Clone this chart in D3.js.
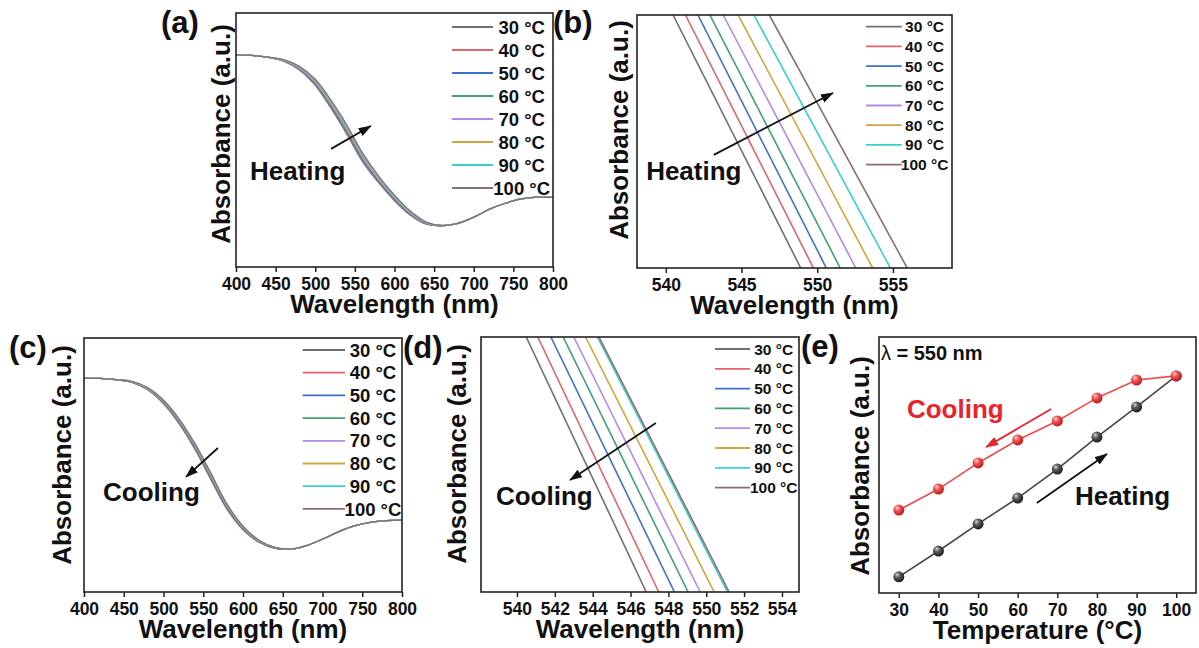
<!DOCTYPE html>
<html>
<head>
<meta charset="utf-8">
<script src="https://cdn.jsdelivr.net/npm/d3@7"></script>
<style>
  body { margin: 0; background: #fff; }
  svg text { font-family: "Liberation Sans", Arial, sans-serif; font-weight: bold; fill: #111; }
</style>
</head>
<body>
<svg id="fig" width="1199" height="648"></svg>
<script>
// ---------- data ----------
const temps = [30, 40, 50, 60, 70, 80, 90, 100];
const legendLabels = ["30 °C", "40 °C", "50 °C", "60 °C", "70 °C", "80 °C", "90 °C", "100 °C"];
const seriesColors = ["#6f6f6f", "#e5636b", "#3f6fd6", "#3ea274", "#b38be6", "#d2a43c", "#3bcfd0", "#8b6e70"];

// full UV-vis spectra (absorbance, a.u.)
const wavelengths = [400, 420, 440, 460, 480, 500, 520, 540, 560, 580, 600, 620, 640, 660, 680, 700, 720, 740, 760, 780, 800];

const heatingAbs = [
  [0.835, 0.833, 0.826, 0.810, 0.776, 0.715, 0.624, 0.522, 0.413, 0.332, 0.261, 0.204, 0.169, 0.162, 0.172, 0.196, 0.228, 0.251, 0.268, 0.275, 0.274],
  [0.835, 0.833, 0.826, 0.811, 0.777, 0.718, 0.628, 0.527, 0.417, 0.335, 0.264, 0.206, 0.170, 0.162, 0.172, 0.196, 0.228, 0.251, 0.268, 0.275, 0.274],
  [0.835, 0.833, 0.826, 0.811, 0.779, 0.721, 0.632, 0.531, 0.422, 0.338, 0.267, 0.208, 0.171, 0.163, 0.172, 0.196, 0.228, 0.251, 0.268, 0.275, 0.274],
  [0.835, 0.833, 0.826, 0.812, 0.781, 0.724, 0.636, 0.536, 0.426, 0.342, 0.269, 0.210, 0.172, 0.163, 0.172, 0.196, 0.228, 0.251, 0.268, 0.275, 0.274],
  [0.835, 0.833, 0.826, 0.813, 0.783, 0.727, 0.641, 0.541, 0.431, 0.345, 0.272, 0.212, 0.173, 0.163, 0.172, 0.196, 0.228, 0.251, 0.268, 0.275, 0.274],
  [0.835, 0.833, 0.826, 0.814, 0.786, 0.731, 0.646, 0.546, 0.436, 0.350, 0.276, 0.215, 0.175, 0.163, 0.172, 0.196, 0.228, 0.251, 0.268, 0.275, 0.274],
  [0.835, 0.833, 0.826, 0.815, 0.788, 0.735, 0.651, 0.552, 0.441, 0.354, 0.279, 0.218, 0.176, 0.164, 0.172, 0.196, 0.228, 0.251, 0.268, 0.275, 0.274],
  [0.835, 0.833, 0.826, 0.816, 0.790, 0.739, 0.656, 0.558, 0.447, 0.358, 0.283, 0.220, 0.177, 0.164, 0.172, 0.196, 0.228, 0.251, 0.268, 0.275, 0.274]
];

const coolingAbs = [
  [0.841, 0.841, 0.836, 0.825, 0.796, 0.741, 0.661, 0.559, 0.440, 0.325, 0.245, 0.196, 0.172, 0.169, 0.183, 0.208, 0.237, 0.260, 0.274, 0.281, 0.283],
  [0.841, 0.841, 0.836, 0.826, 0.797, 0.743, 0.664, 0.562, 0.444, 0.328, 0.247, 0.197, 0.173, 0.169, 0.183, 0.208, 0.237, 0.260, 0.274, 0.281, 0.283],
  [0.841, 0.841, 0.836, 0.826, 0.799, 0.746, 0.667, 0.566, 0.448, 0.332, 0.250, 0.199, 0.173, 0.169, 0.183, 0.208, 0.237, 0.260, 0.274, 0.281, 0.283],
  [0.841, 0.841, 0.836, 0.827, 0.800, 0.748, 0.670, 0.570, 0.452, 0.335, 0.252, 0.200, 0.174, 0.169, 0.183, 0.208, 0.237, 0.260, 0.274, 0.281, 0.283],
  [0.841, 0.841, 0.836, 0.828, 0.801, 0.750, 0.673, 0.573, 0.456, 0.338, 0.254, 0.201, 0.175, 0.169, 0.183, 0.208, 0.237, 0.260, 0.274, 0.281, 0.283],
  [0.841, 0.841, 0.836, 0.828, 0.803, 0.752, 0.676, 0.577, 0.460, 0.342, 0.256, 0.203, 0.175, 0.169, 0.183, 0.208, 0.237, 0.260, 0.274, 0.281, 0.283],
  [0.841, 0.841, 0.836, 0.829, 0.804, 0.755, 0.679, 0.581, 0.464, 0.345, 0.259, 0.204, 0.176, 0.169, 0.183, 0.208, 0.237, 0.260, 0.274, 0.281, 0.283],
  [0.841, 0.841, 0.836, 0.829, 0.805, 0.755, 0.680, 0.581, 0.465, 0.345, 0.259, 0.204, 0.176, 0.169, 0.183, 0.208, 0.237, 0.260, 0.274, 0.281, 0.283]
];

// zoomed spectral window: wavelength where each curve enters (high abs) and leaves (low abs)
const heatZoomAbs = [0.520, 0.475];
const heatZoomWlHigh = [540.48, 541.30, 542.12, 542.91, 543.79, 544.78, 545.82, 546.84];
const heatZoomWlLow  = [548.91, 549.75, 550.60, 551.52, 552.55, 553.66, 554.83, 555.94];
const coolZoomAbs = [0.556, 0.518];
const coolZoomWlHigh = [540.49, 541.10, 541.79, 542.44, 543.00, 543.62, 544.25, 544.33];
const coolZoomWlLow  = [546.83, 547.49, 548.32, 549.04, 549.68, 550.42, 551.12, 551.21];

// absorbance at 550 nm vs temperature
const heatingAt550 = [0.063, 0.164, 0.270, 0.371, 0.484, 0.609, 0.727, 0.848];
const coolingAt550 = [0.324, 0.406, 0.508, 0.598, 0.672, 0.762, 0.832, 0.848];

// tick values
const fullWlTicks = [400, 450, 500, 550, 600, 650, 700, 750, 800];
const heatZoomTicks = [540, 545, 550, 555];
const coolZoomTicks = [540, 542, 544, 546, 548, 550, 552, 554];
const tempTicks = [30, 40, 50, 60, 70, 80, 90, 100];

// ---------- drawing ----------
const svg = d3.select("#fig");
const defs = svg.append("defs");
const FONT = '"Liberation Sans", Arial, sans-serif';

function arrowMarker(id, color) {
  defs.append("marker")
    .attr("id", id)
    .attr("markerUnits", "userSpaceOnUse")
    .attr("markerWidth", 13).attr("markerHeight", 10)
    .attr("refX", 12).attr("refY", 4.5)
    .attr("orient", "auto")
    .append("path").attr("d", "M0,0 L13,4.5 L0,9 Z").attr("fill", color);
}
arrowMarker("arrowBlack", "#111");
arrowMarker("arrowRed", "#e8232b");

function sphereGradient(id, hi, mid, lo) {
  const gr = defs.append("radialGradient").attr("id", id)
    .attr("cx", "38%").attr("cy", "35%").attr("r", "65%").attr("fx", "35%").attr("fy", "30%");
  gr.append("stop").attr("offset", "0%").attr("stop-color", hi);
  gr.append("stop").attr("offset", "40%").attr("stop-color", mid);
  gr.append("stop").attr("offset", "100%").attr("stop-color", lo);
}
sphereGradient("ballRed", "#ffd6d6", "#f05656", "#c01818");
sphereGradient("ballGray", "#d6d6d6", "#5c5c5c", "#1c1c1c");

function makePanel(cfg) {
  const g = svg.append("g");
  const x = d3.scaleLinear().domain(cfg.xDomain).range([cfg.x0, cfg.x1]);
  const y = d3.scaleLinear().domain(cfg.yDomain).range([cfg.y1, cfg.y0]);
  const clipId = "clip-" + cfg.name;
  defs.append("clipPath").attr("id", clipId).append("rect")
    .attr("x", cfg.x0).attr("y", cfg.y0)
    .attr("width", cfg.x1 - cfg.x0).attr("height", cfg.y1 - cfg.y0);
  const plot = g.append("g").attr("clip-path", `url(#${clipId})`);

  const ax = g.append("g")
    .attr("transform", `translate(0,${cfg.y1})`)
    .call(d3.axisBottom(x).tickValues(cfg.ticks).tickSize(5).tickPadding(6).tickFormat(d3.format("d")))
    .attr("font-family", FONT).attr("font-size", 17.5);
  ax.select(".domain").remove();
  ax.selectAll(".tick line").attr("stroke", "#222").attr("stroke-width", 1.5);
  ax.selectAll(".tick text").attr("fill", "#111");

  g.append("rect")
    .attr("x", cfg.x0).attr("y", cfg.y0)
    .attr("width", cfg.x1 - cfg.x0).attr("height", cfg.y1 - cfg.y0)
    .attr("fill", "none").attr("stroke", "#222").attr("stroke-width", 1.6);

  g.append("text")
    .attr("x", (cfg.x0 + cfg.x1) / 2).attr("y", cfg.y1 + 46)
    .attr("text-anchor", "middle").attr("font-size", 26)
    .text(cfg.xTitle);

  g.append("text")
    .attr("transform", `translate(${cfg.yTitleX},${cfg.yTitleY}) rotate(-90)`)
    .attr("text-anchor", "middle").attr("font-size", 26)
    .text("Absorbance (a.u.)");

  g.append("text")
    .attr("x", cfg.tagX).attr("y", cfg.tagY)
    .attr("font-size", 31)
    .text(cfg.tag);

  const px = f => cfg.x0 + f * (cfg.x1 - cfg.x0);
  const py = f => cfg.y0 + f * (cfg.y1 - cfg.y0);
  return { g, plot, x, y, px, py, cfg };
}

function drawLegend(p, spec) {
  const lg = p.g.append("g");
  legendLabels.forEach((lab, i) => {
    const yy = p.cfg.y0 + spec.row0 + i * spec.step;
    lg.append("line")
      .attr("x1", p.cfg.x0 + spec.lx0).attr("x2", p.cfg.x0 + spec.lx1)
      .attr("y1", yy).attr("y2", yy)
      .attr("stroke", seriesColors[i]).attr("stroke-width", 1.8);
    lg.append("text")
      .attr("x", p.cfg.x0 + spec.tx).attr("y", yy + spec.font * 0.36)
      .attr("text-anchor", "middle").attr("font-size", spec.font)
      .text(lab);
  });
}

function drawArrow(p, a, marker, color) {
  p.g.append("line")
    .attr("x1", p.px(a[0])).attr("y1", p.py(a[1]))
    .attr("x2", p.px(a[2])).attr("y2", p.py(a[3]))
    .attr("stroke", color).attr("stroke-width", 1.8)
    .attr("marker-end", `url(#${marker})`);
}

function drawNote(p, fx, fy, txt, size, color) {
  p.g.append("text")
    .attr("x", p.px(fx)).attr("y", p.py(fy))
    .attr("font-size", size).style("fill", color || "#111")
    .text(txt);
}

function drawSpectra(p, absSets) {
  const line = d3.line()
    .x((d, i) => p.x(wavelengths[i]))
    .y(d => p.y(d))
    .curve(d3.curveCatmullRom.alpha(0.5));
  absSets.forEach((vals, i) => {
    p.plot.append("path")
      .attr("d", line(vals))
      .attr("fill", "none")
      .attr("stroke", seriesColors[i]).attr("stroke-width", 1.3);
  });
}

function drawZoomLines(p, wlHigh, wlLow, absPair) {
  const line = d3.line().x(d => p.x(d[0])).y(d => p.y(d[1]));
  temps.forEach((t, i) => {
    p.plot.append("path")
      .attr("d", line([[wlHigh[i], absPair[0]], [wlLow[i], absPair[1]]]))
      .attr("fill", "none")
      .attr("stroke", seriesColors[i]).attr("stroke-width", 1.6);
  });
}

// (a) heating spectra
const pa = makePanel({
  name: "a", x0: 236, x1: 553, y0: 13, y1: 267,
  xDomain: [400, 800], yDomain: [0, 1], ticks: fullWlTicks,
  xTitle: "Wavelength (nm)", yTitleX: 230, yTitleY: 134,
  tag: "(a)", tagX: 161, tagY: 33
});
drawSpectra(pa, heatingAbs);
drawLegend(pa, { lx0: 216, lx1: 257, tx: 285.7, row0: 14, step: 23, font: 18.5 });
drawNote(pa, 0.044, 0.657, "Heating", 26);
drawArrow(pa, [0.300, 0.535, 0.425, 0.445], "arrowBlack", "#111");

// (b) heating, zoomed window
const pb = makePanel({
  name: "b", x0: 637, x1: 952, y0: 15, y1: 268,
  xDomain: [538.1, 558.9], yDomain: heatZoomAbs.slice().reverse(), ticks: heatZoomTicks,
  xTitle: "Wavelength (nm)", yTitleX: 628, yTitleY: 130,
  tag: "(b)", tagX: 553, tagY: 33
});
drawZoomLines(pb, heatZoomWlHigh, heatZoomWlLow, heatZoomAbs);
drawLegend(pb, { lx0: 229, lx1: 264.7, tx: 287.6, row0: 11.7, step: 19.7, font: 15.5 });
drawNote(pb, 0.029, 0.652, "Heating", 26);
drawArrow(pb, [0.244, 0.553, 0.622, 0.308], "arrowBlack", "#111");

// (c) cooling spectra
const pc = makePanel({
  name: "c", x0: 84, x1: 402, y0: 338, y1: 592,
  xDomain: [400, 800], yDomain: [0, 1], ticks: fullWlTicks,
  xTitle: "Wavelength (nm)", yTitleX: 71, yTitleY: 455,
  tag: "(c)", tagX: 9, tagY: 358
});
drawSpectra(pc, coolingAbs);
drawLegend(pc, { lx0: 218.7, lx1: 261, tx: 289, row0: 12, step: 22.7, font: 18.5 });
drawNote(pc, 0.060, 0.642, "Cooling", 26);
drawArrow(pc, [0.421, 0.433, 0.321, 0.547], "arrowBlack", "#111");

// (d) cooling, zoomed window
const pd = makePanel({
  name: "d", x0: 481, x1: 799, y0: 337, y1: 592,
  xDomain: [538.1, 554.9], yDomain: coolZoomAbs.slice().reverse(), ticks: coolZoomTicks,
  xTitle: "Wavelength (nm)", yTitleX: 466, yTitleY: 454,
  tag: "(d)", tagX: 403, tagY: 358
});
drawZoomLines(pd, coolZoomWlHigh, coolZoomWlLow, coolZoomAbs);
drawLegend(pd, { lx0: 234, lx1: 269, tx: 292.7, row0: 12, step: 19.8, font: 15.5 });
drawNote(pd, 0.047, 0.659, "Cooling", 26);
drawArrow(pd, [0.550, 0.337, 0.280, 0.561], "arrowBlack", "#111");

// (e) absorbance at 550 nm vs temperature
const pe = makePanel({
  name: "e", x0: 879, x1: 1196, y0: 337, y1: 593,
  xDomain: [25, 105], yDomain: [0, 1], ticks: tempTicks,
  xTitle: "Temperature (°C)", yTitleX: 869, yTitleY: 466,
  tag: "(e)", tagX: 801, tagY: 357
});
const tLine = d3.line().x((d, i) => pe.x(temps[i])).y(d => pe.y(d));
pe.plot.append("path").attr("d", tLine(heatingAt550))
  .attr("fill", "none").attr("stroke", "#454545").attr("stroke-width", 1.6);
pe.plot.append("path").attr("d", tLine(coolingAt550))
  .attr("fill", "none").attr("stroke", "#ef4a4a").attr("stroke-width", 1.6);
pe.g.selectAll(".ballH").data(heatingAt550).join("circle")
  .attr("cx", (d, i) => pe.x(temps[i])).attr("cy", d => pe.y(d))
  .attr("r", 5.5).attr("fill", "url(#ballGray)");
pe.g.selectAll(".ballC").data(coolingAt550).join("circle")
  .attr("cx", (d, i) => pe.x(temps[i])).attr("cy", d => pe.y(d))
  .attr("r", 5.5).attr("fill", "url(#ballRed)");
pe.g.append("text")
  .attr("x", pe.px(0.006)).attr("y", pe.py(0.090))
  .attr("font-size", 20)
  .call(t => {
    t.append("tspan").attr("font-weight", "normal").text("λ");
    t.append("tspan").text(" = 550 nm");
  });
drawNote(pe, 0.088, 0.316, "Cooling", 26, "#e8232b");
drawArrow(pe, [0.543, 0.281, 0.338, 0.430], "arrowRed", "#e8232b");
drawNote(pe, 0.618, 0.656, "Heating", 26);
drawArrow(pe, [0.498, 0.648, 0.719, 0.457], "arrowBlack", "#111");
</script>
</body>
</html>
